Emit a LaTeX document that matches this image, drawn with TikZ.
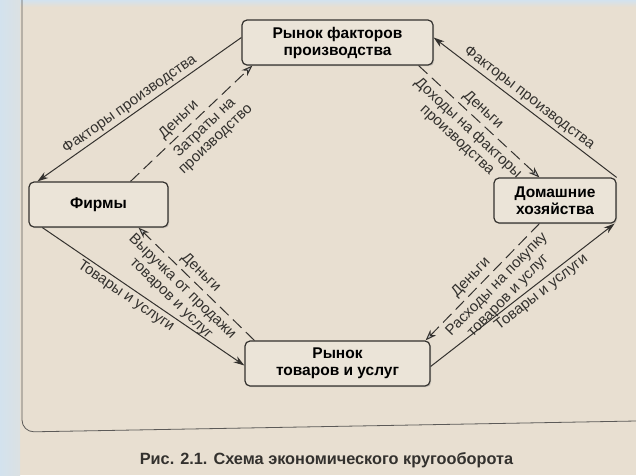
\documentclass[tikz,border=0pt]{standalone}
\usepackage{fontspec}
\setmainfont{Liberation Sans}
\usetikzlibrary{arrows.meta,calc,shadows}
\definecolor{paper}{HTML}{E8DFD1}
\definecolor{ink}{HTML}{33312E}
\definecolor{edge}{HTML}{D3E2EE}

\begin{document}
\begin{tikzpicture}[x=1pt,y=-1pt,
    box/.style={rectangle,rounded corners=5pt,draw=ink,line width=1.2pt,fill=paper!85!white,minimum height=45pt,align=center,font=\bfseries\fontsize{15.5}{17}\selectfont,drop shadow={shadow xshift=1.2pt,shadow yshift=-1.2pt,opacity=0.3}},
    lbl/.style={font=\fontsize{15}{16}\selectfont,text=ink,sloped,align=center,inner sep=2.5pt},
    far/.style={inner ysep=5pt},
    flow/.style={draw=ink,line width=1pt,-{Stealth[length=11pt,width=7pt]}},
    money/.style={draw=ink,line width=1pt,dash pattern=on 12pt off 6pt,-{Stealth[length=11pt,width=8pt,open,fill=gray!45]}}]

    \useasboundingbox (0,0) rectangle (636,475);
    \fill[paper] (0,0) rectangle (636,475);
    \shade[left color=edge,right color=edge!60!paper] (0,0) rectangle (20,475);
    \shade[top color=edge,bottom color=paper] (20,0) rectangle (636,7);
    \draw[ink!80,line width=0.8pt,rounded corners=12pt] (22,0) -- (22,432) -- (636,421);

    \node[box,minimum width=191pt] (R1) at (337.5,42.5) {Рынок факторов\\производства};
    \node[box,minimum width=139pt] (F) at (98.5,204.5) {Фирмы};
    \node[box,minimum width=122pt] (H) at (555,200.5) {Домашние\\хозяйства};
    \node[box,minimum width=185pt] (R2) at (337.5,363.5) {Рынок\\товаров и услуг};

    \draw[flow] ($(R1.west)+(0,-5)$) to node[lbl,above,pos=0.52] {Факторы производства} ($(F.north west)+(9,0)$);
    \draw[money] ($(F.north)+(32,0)$) to node[lbl,above,inner ysep=4pt,pos=0.46] {Деньги} node[lbl,far,below,pos=0.54] {Затраты на\\производство} ($(R1.south west)+(11,0)$);
    \draw[flow] (H.north east) to node[lbl,above,pos=0.51] {Факторы производства} ($(R1.east)+(0,-5)$);
    \draw[money] ($(R1.south east)+(-15,0)$) to node[lbl,above,inner ysep=4pt,pos=0.47] {Деньги} node[lbl,far,below,pos=0.48] {Доходы на факторы\\производства} ($(H.north west)+(46,0)$);
    \draw[flow] ($(F.south west)+(14,0)$) to node[lbl,below,pos=0.44] {Товары и услуги} ($(R2.west)+(0,2)$);
    \draw[money] ($(R2.north west)+(10,0)$) to node[lbl,above,inner ysep=4pt,pos=0.53] {Деньги} node[lbl,far,below,pos=0.55] {Выручка от продажи\\товаров и услуг} ($(F.south)+(40,0)$);
    \draw[flow] ($(R2.east)+(0,3)$) to node[lbl,below,pos=0.57] {Товары и услуги} ($(H.south east)+(-2,0)$);
    \draw[money] ($(H.south west)+(46,0)$) to node[lbl,above,inner ysep=4pt,pos=0.53] {Деньги} node[lbl,far,below,pos=0.45] {Расходы на покупку\\товаров и услуг} ($(R2.north east)+(-5,0)$);

    \node[font=\bfseries\fontsize{16.3}{18}\selectfont,text=ink] (cap) at (326.5,460) {Рис. 2.1. Схема экономического кругооборота};

\end{tikzpicture}
\end{document}
